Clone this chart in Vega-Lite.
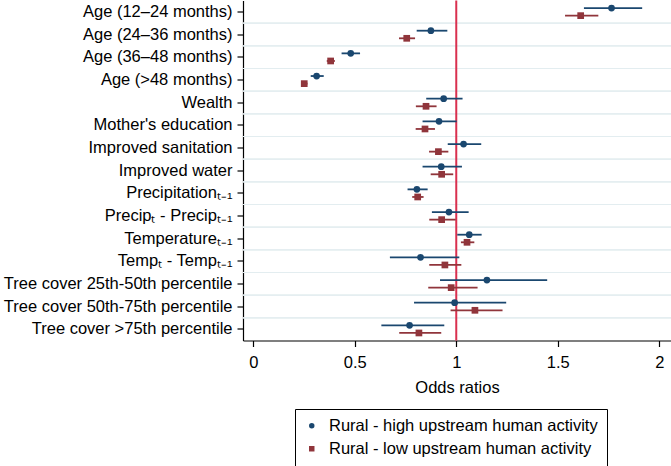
{
  "$schema": "https://vega.github.io/schema/vega-lite/v6.json",
  "autosize": "none",
  "padding": {"left": 243, "top": 0.5, "right": 0, "bottom": 125.5},
  "width": 428,
  "height": 340,
  "config": {
    "view": {"stroke": null},
    "font": "Liberation Sans",
    "axis": {"domainColor": "#000000", "tickColor": "#000000", "labelColor": "#000000", "titleColor": "#000000", "titleFontWeight": "normal", "labelFont": "Liberation Sans", "titleFont": "Liberation Sans"},
    "legend": {"labelFont": "Liberation Sans", "labelColor": "#000000", "labelLimit": 500}
  },
  "datasets": {
    "ref": [{"ref": 1}],
    "est": [
    {"var": "Age (12–24 months)", "group": "Rural - high upstream human activity", "or": 1.765, "lo": 1.629, "hi": 1.916},
    {"var": "Age (12–24 months)", "group": "Rural - low upstream human activity", "or": 1.613, "lo": 1.536, "hi": 1.700},
    {"var": "Age (24–36 months)", "group": "Rural - high upstream human activity", "or": 0.875, "lo": 0.805, "hi": 0.956},
    {"var": "Age (24–36 months)", "group": "Rural - low upstream human activity", "or": 0.756, "lo": 0.718, "hi": 0.797},
    {"var": "Age (36–48 months)", "group": "Rural - high upstream human activity", "or": 0.480, "lo": 0.435, "hi": 0.526},
    {"var": "Age (36–48 months)", "group": "Rural - low upstream human activity", "or": 0.381, "lo": 0.362, "hi": 0.402},
    {"var": "Age (>48 months)", "group": "Rural - high upstream human activity", "or": 0.312, "lo": 0.283, "hi": 0.347},
    {"var": "Age (>48 months)", "group": "Rural - low upstream human activity", "or": 0.251, "lo": 0.239, "hi": 0.267},
    {"var": "Wealth", "group": "Rural - high upstream human activity", "or": 0.938, "lo": 0.852, "hi": 1.031},
    {"var": "Wealth", "group": "Rural - low upstream human activity", "or": 0.851, "lo": 0.801, "hi": 0.903},
    {"var": "Mother's education", "group": "Rural - high upstream human activity", "or": 0.915, "lo": 0.834, "hi": 1.002},
    {"var": "Mother's education", "group": "Rural - low upstream human activity", "or": 0.846, "lo": 0.800, "hi": 0.895},
    {"var": "Improved sanitation", "group": "Rural - high upstream human activity", "or": 1.036, "lo": 0.958, "hi": 1.123},
    {"var": "Improved sanitation", "group": "Rural - low upstream human activity", "or": 0.912, "lo": 0.866, "hi": 0.961},
    {"var": "Improved water", "group": "Rural - high upstream human activity", "or": 0.926, "lo": 0.834, "hi": 1.028},
    {"var": "Improved water", "group": "Rural - low upstream human activity", "or": 0.928, "lo": 0.874, "hi": 0.985},
    {"var": "Precipitationₜ₋₁", "group": "Rural - high upstream human activity", "or": 0.806, "lo": 0.760, "hi": 0.859},
    {"var": "Precipitationₜ₋₁", "group": "Rural - low upstream human activity", "or": 0.810, "lo": 0.783, "hi": 0.839},
    {"var": "Precipₜ - Precipₜ₋₁", "group": "Rural - high upstream human activity", "or": 0.964, "lo": 0.880, "hi": 1.061},
    {"var": "Precipₜ - Precipₜ₋₁", "group": "Rural - low upstream human activity", "or": 0.928, "lo": 0.867, "hi": 0.997},
    {"var": "Temperatureₜ₋₁", "group": "Rural - high upstream human activity", "or": 1.064, "lo": 1.005, "hi": 1.125},
    {"var": "Temperatureₜ₋₁", "group": "Rural - low upstream human activity", "or": 1.053, "lo": 1.023, "hi": 1.089},
    {"var": "Tempₜ - Tempₜ₋₁", "group": "Rural - high upstream human activity", "or": 0.824, "lo": 0.673, "hi": 1.015},
    {"var": "Tempₜ - Tempₜ₋₁", "group": "Rural - low upstream human activity", "or": 0.944, "lo": 0.867, "hi": 1.025},
    {"var": "Tree cover 25th-50th percentile", "group": "Rural - high upstream human activity", "or": 1.151, "lo": 0.920, "hi": 1.448},
    {"var": "Tree cover 25th-50th percentile", "group": "Rural - low upstream human activity", "or": 0.975, "lo": 0.862, "hi": 1.105},
    {"var": "Tree cover 50th-75th percentile", "group": "Rural - high upstream human activity", "or": 0.992, "lo": 0.792, "hi": 1.246},
    {"var": "Tree cover 50th-75th percentile", "group": "Rural - low upstream human activity", "or": 1.092, "lo": 0.972, "hi": 1.228},
    {"var": "Tree cover >75th percentile", "group": "Rural - high upstream human activity", "or": 0.770, "lo": 0.631, "hi": 0.941},
    {"var": "Tree cover >75th percentile", "group": "Rural - low upstream human activity", "or": 0.816, "lo": 0.719, "hi": 0.926}
    ]
  },
  "layer": [
    {
      "data": {"name": "est"},
      "transform": [{"filter": "datum.var != 'Age (12–24 months)'"}],
      "mark": {"type": "rule", "color": "#e3edf0", "strokeWidth": 1.2},
      "encoding": {
        "y": {"field": "var", "type": "nominal", "bandPosition": 0,
          "sort": ["Age (12–24 months)", "Age (24–36 months)", "Age (36–48 months)", "Age (>48 months)", "Wealth", "Mother's education", "Improved sanitation", "Improved water", "Precipitationₜ₋₁", "Precipₜ - Precipₜ₋₁", "Temperatureₜ₋₁", "Tempₜ - Tempₜ₋₁", "Tree cover 25th-50th percentile", "Tree cover 50th-75th percentile", "Tree cover >75th percentile"],
          "scale": {"paddingInner": 0, "paddingOuter": 0},
          "axis": {"title": null, "grid": false, "tickSize": 6, "labelPadding": 5, "labelFontSize": 16.5, "labelLimit": 400, "domainWidth": 1.2, "tickWidth": 1.2, "tickBand": "center"}}
      }
    },
    {
      "data": {"name": "ref"},
      "mark": {"type": "rule", "color": "#d9304f", "strokeWidth": 2},
      "encoding": {"x": {"field": "ref", "type": "quantitative"}}
    },
    {
      "data": {"name": "est"},
      "mark": {"type": "rule", "strokeWidth": 1.8},
      "encoding": {
        "y": {"field": "var", "type": "nominal",
          "sort": ["Age (12–24 months)", "Age (24–36 months)", "Age (36–48 months)", "Age (>48 months)", "Wealth", "Mother's education", "Improved sanitation", "Improved water", "Precipitationₜ₋₁", "Precipₜ - Precipₜ₋₁", "Temperatureₜ₋₁", "Tempₜ - Tempₜ₋₁", "Tree cover 25th-50th percentile", "Tree cover 50th-75th percentile", "Tree cover >75th percentile"]},
        "x": {"field": "lo", "type": "quantitative",
          "scale": {"domain": [-0.0507, 2.058], "nice": false, "zero": false},
          "axis": {"title": "Odds ratios", "values": [0, 0.5, 1, 1.5, 2], "format": "~g", "grid": false, "tickSize": 6, "labelPadding": 8, "labelFontSize": 16.5, "titleFontSize": 16.5, "titlePadding": 8, "domainWidth": 1.2, "tickWidth": 1.2}},
        "x2": {"field": "hi"},
        "yOffset": {"field": "group", "type": "nominal", "scale": {"paddingOuter": 0.49, "paddingInner": 0}},
        "stroke": {"field": "group", "type": "nominal", "scale": {"range": ["#1a476f", "#90353b"]}, "legend": null}
      }
    },
    {
      "data": {"name": "est"},
      "mark": {"type": "point", "filled": true, "opacity": 1, "size": 45},
      "encoding": {
        "y": {"field": "var", "type": "nominal",
          "sort": ["Age (12–24 months)", "Age (24–36 months)", "Age (36–48 months)", "Age (>48 months)", "Wealth", "Mother's education", "Improved sanitation", "Improved water", "Precipitationₜ₋₁", "Precipₜ - Precipₜ₋₁", "Temperatureₜ₋₁", "Tempₜ - Tempₜ₋₁", "Tree cover 25th-50th percentile", "Tree cover 50th-75th percentile", "Tree cover >75th percentile"]},
        "x": {"field": "or", "type": "quantitative"},
        "yOffset": {"field": "group", "type": "nominal", "scale": {"paddingOuter": 0.49, "paddingInner": 0}},
        "color": {"field": "group", "type": "nominal",
          "scale": {"domain": ["Rural - high upstream human activity", "Rural - low upstream human activity"], "range": ["#1a476f", "#90353b"]},
          "legend": {"title": null, "orient": "none", "legendX": 52, "legendY": 408.5, "direction": "vertical", "strokeColor": "#000000", "padding": 8.5, "labelFontSize": 16.5, "labelLimit": 500, "symbolSize": 30, "rowPadding": 6, "labelOffset": 9, "symbolOpacity": 1, "labelExpr": "datum.label + '\u00a0\u00a0\u00a0\u00a0\u00a0\u00a0\u00a0\u00a0'"}},
        "shape": {"field": "group", "type": "nominal", "scale": {"domain": ["Rural - high upstream human activity", "Rural - low upstream human activity"], "range": ["circle", "square"]}}
      }
    }
  ]
}
